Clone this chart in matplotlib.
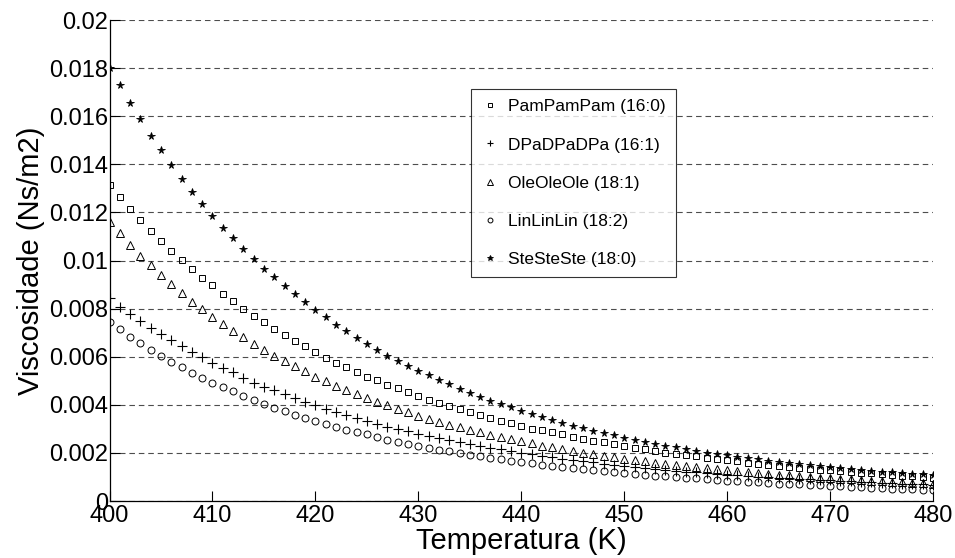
import numpy as np
import matplotlib
matplotlib.use("Agg")
import matplotlib.pyplot as plt

plt.rcParams["font.family"] = ["Liberation Sans", "DejaVu Sans"]

# temperatures, one point per kelvin
temps = list(range(400, 481))

# viscosity values (units of 1e-3 Ns/m2)
pam = [13.14, 12.63, 12.14, 11.67, 11.23, 10.82, 10.41, 10.02, 9.63, 9.29,
       8.97, 8.62, 8.30, 8.00, 7.69, 7.43, 7.17, 6.89, 6.65, 6.43,
       6.20, 5.97, 5.75, 5.57, 5.36, 5.18, 5.03, 4.84, 4.69, 4.52,
       4.38, 4.21, 4.07, 3.94, 3.81, 3.70, 3.58, 3.45, 3.34, 3.23,
       3.12, 3.01, 2.94, 2.86, 2.77, 2.68, 2.60, 2.51, 2.44, 2.36,
       2.29, 2.22, 2.15, 2.08, 2.02, 1.97, 1.92, 1.86, 1.80, 1.75,
       1.70, 1.65, 1.60, 1.56, 1.52, 1.47, 1.43, 1.39, 1.35, 1.31,
       1.28, 1.24, 1.21, 1.18, 1.15, 1.12, 1.09, 1.06, 1.03, 1.00, 0.97]
dpa = [8.43, 8.08, 7.78, 7.48, 7.21, 6.96, 6.68, 6.43, 6.18, 5.99,
       5.75, 5.52, 5.35, 5.13, 4.93, 4.75, 4.62, 4.45, 4.28, 4.13,
       3.98, 3.84, 3.69, 3.56, 3.44, 3.33, 3.21, 3.10, 2.99, 2.90,
       2.81, 2.72, 2.63, 2.55, 2.47, 2.38, 2.30, 2.22, 2.15, 2.08,
       2.01, 1.95, 1.89, 1.83, 1.77, 1.71, 1.66, 1.61, 1.56, 1.51,
       1.46, 1.42, 1.38, 1.34, 1.30, 1.26, 1.23, 1.20, 1.16, 1.13,
       1.10, 1.07, 1.04, 1.02, 0.99, 0.97, 0.94, 0.92, 0.90, 0.88,
       0.86, 0.84, 0.82, 0.80, 0.78, 0.76, 0.74, 0.72, 0.70, 0.69, 0.67]
ole = [11.61, 11.13, 10.66, 10.21, 9.80, 9.40, 9.02, 8.65, 8.29, 7.98,
       7.66, 7.35, 7.07, 6.81, 6.52, 6.27, 6.02, 5.81, 5.60, 5.39,
       5.17, 4.98, 4.80, 4.62, 4.44, 4.28, 4.13, 3.98, 3.82, 3.69,
       3.55, 3.42, 3.30, 3.18, 3.07, 2.96, 2.86, 2.76, 2.66, 2.57,
       2.48, 2.40, 2.31, 2.24, 2.16, 2.09, 2.02, 1.95, 1.89, 1.83,
       1.77, 1.71, 1.65, 1.60, 1.55, 1.50, 1.45, 1.41, 1.36, 1.32,
       1.28, 1.24, 1.20, 1.17, 1.13, 1.10, 1.07, 1.04, 1.01, 0.98,
       0.95, 0.93, 0.90, 0.88, 0.85, 0.83, 0.81, 0.79, 0.77, 0.75, 0.73]
lin = [7.44, 7.14, 6.83, 6.56, 6.28, 6.03, 5.78, 5.57, 5.34, 5.13,
       4.93, 4.74, 4.56, 4.38, 4.20, 4.03, 3.89, 3.73, 3.60, 3.46,
       3.34, 3.21, 3.09, 2.96, 2.87, 2.77, 2.66, 2.55, 2.45, 2.37,
       2.29, 2.21, 2.14, 2.07, 2.00, 1.93, 1.86, 1.80, 1.74, 1.68,
       1.62, 1.57, 1.52, 1.47, 1.42, 1.37, 1.33, 1.29, 1.25, 1.21,
       1.17, 1.13, 1.10, 1.06, 1.03, 1.00, 0.97, 0.94, 0.91, 0.88,
       0.85, 0.83, 0.80, 0.78, 0.76, 0.73, 0.71, 0.69, 0.67, 0.65,
       0.63, 0.61, 0.59, 0.57, 0.56, 0.54, 0.52, 0.51, 0.49, 0.48, 0.46]
ste = [18.00, 17.30, 16.55, 15.90, 15.20, 14.60, 13.97, 13.39, 12.86, 12.35,
       11.86, 11.36, 10.92, 10.48, 10.05, 9.67, 9.30, 8.95, 8.59, 8.26,
       7.93, 7.64, 7.33, 7.06, 6.78, 6.53, 6.29, 6.03, 5.83, 5.63,
       5.41, 5.23, 5.03, 4.85, 4.67, 4.50, 4.34, 4.17, 4.03, 3.90,
       3.75, 3.62, 3.50, 3.38, 3.26, 3.14, 3.03, 2.93, 2.83, 2.73,
       2.64, 2.55, 2.46, 2.38, 2.30, 2.23, 2.16, 2.09, 2.02, 1.96,
       1.90, 1.84, 1.79, 1.73, 1.68, 1.63, 1.58, 1.54, 1.50, 1.46,
       1.42, 1.38, 1.34, 1.30, 1.27, 1.23, 1.20, 1.17, 1.14, 1.11, 1.08]

labels = ["PamPamPam (16:0)", "DPaDPaDPa (16:1)", "OleOleOle (18:1)",
          "LinLinLin (18:2)", "SteSteSte (18:0)"]

x_ticks = list(range(400, 481, 10))
y_ticks = [0, 0.002, 0.004, 0.006, 0.008, 0.01, 0.012, 0.014, 0.016, 0.018, 0.02]
y_tick_labels = ["0", "0.002", "0.004", "0.006", "0.008", "0.01",
                 "0.012", "0.014", "0.016", "0.018", "0.02"]

fig = plt.figure(figsize=(9.55, 5.58), dpi=100)
ax = fig.add_axes([0.1147, 0.102, 0.8623, 0.862])

t = np.array(temps)
series = [pam, dpa, ole, lin, ste]
styles = [
    dict(marker="s", markersize=5, markerfacecolor="none", markeredgewidth=0.7),
    dict(marker="+", markersize=6.5, markeredgewidth=0.8),
    dict(marker="^", markersize=5.5, markerfacecolor="none", markeredgewidth=0.7),
    dict(marker="o", markersize=5, markerfacecolor="none", markeredgewidth=0.7),
    dict(marker="*", markersize=5.5, markerfacecolor="black", markeredgewidth=0.6),
]
for vals, lab, st in zip(series, labels, styles):
    ax.plot(t, np.array(vals) * 1e-3, linestyle="none", color="black",
            label=lab, **st)

ax.set_xlim(400, 480)
ax.set_ylim(0, 0.02)
ax.set_xticks(x_ticks)
ax.set_yticks(y_ticks)
ax.set_yticklabels(y_tick_labels)
ax.tick_params(direction="in", length=7, width=0.8, labelsize=17, pad=1,
               top=False, right=False)
ax.tick_params(axis="x", pad=3)

ax.yaxis.grid(True, linestyle=(0, (5, 3.5)), color="0.3", linewidth=0.8)
ax.set_axisbelow(True)
for side in ["top", "right"]:
    ax.spines[side].set_visible(False)
for side in ["left", "bottom"]:
    ax.spines[side].set_linewidth(0.9)

ax.set_xlabel("Temperatura (K)", fontsize=21, labelpad=0)
ax.set_ylabel("Viscosidade (Ns/m2)", fontsize=21, labelpad=3)

leg = ax.legend(loc="upper left", bbox_to_anchor=(0.439, 0.857), fontsize=12.5,
                markerscale=0.7, frameon=True, fancybox=False,
                edgecolor="black", handlelength=1.0, handletextpad=0.5,
                borderpad=0.6, labelspacing=1.32, borderaxespad=0)
leg.get_frame().set_linewidth(0.8)

fig.savefig("out.png", dpi=100)
